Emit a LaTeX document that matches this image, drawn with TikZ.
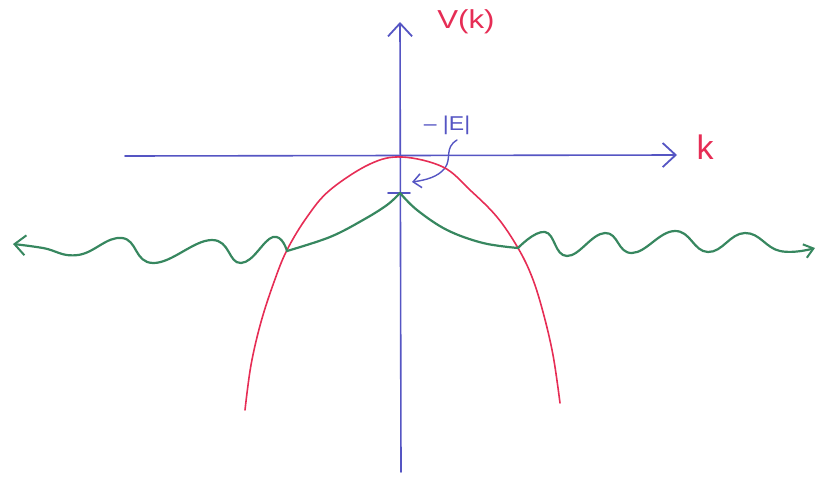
\documentclass[tikz,border=0pt]{standalone}
\usepackage{fontspec}
\setmainfont{Liberation Sans}
\usetikzlibrary{arrows.meta}
\definecolor{axisblue}{RGB}{85,85,195}
\definecolor{curvered}{RGB}{230,45,85}
\definecolor{wavegreen}{RGB}{55,135,95}
\tikzset{
  axisline/.style={draw=axisblue, line width=1.6pt, line cap=round},
  redcurve/.style={draw=curvered, line width=1.6pt, line cap=round},
  greencurve/.style={draw=wavegreen, line width=2.2pt, line cap=round, line join=round},
  barb/.style={-{Straight Barb[length=13pt,width=24pt,line width=1.8pt]}},
  smallbarb/.style={-{Straight Barb[length=8pt,width=14pt,line width=1.5pt]}},
  redtext/.style={text=curvered, inner sep=0pt},
  bluetext/.style={text=axisblue, inner sep=0pt}
}
\begin{document}
\begin{tikzpicture}[x=1pt,y=-1pt]
\useasboundingbox (0,0) rectangle (816,477);
% axes
\coordinate (vbot) at (401,472);
\coordinate (vtop) at (400,22);
\coordinate (hleft) at (125,156);
\coordinate (hright) at (677,155);
\draw[axisline, barb] (vbot) -- (vtop);
\draw[axisline, barb] (hleft) -- (hright);
% labels
\node[redtext, font=\fontsize{26}{28}\selectfont, xscale=1.2] (Vlab) at (466,22) {V(k)};
\node[redtext, font=\fontsize{34}{36}\selectfont] (klab) at (705,147) {k};
\node[bluetext, font=\fontsize{20}{22}\selectfont, xscale=1.15] (Elab) at (447,125) {– |E|};
% tick at -|E|
\coordinate (cusp) at (400,193);
\coordinate (tickL) at (388,193);
\coordinate (tickR) at (410,193);
\draw[axisline] (tickL) -- (tickR);
% curly arrow
\coordinate (curlstart) at (457,140);
\coordinate (curlend) at (412,182);
\draw[axisline, line width=1.4pt, smallbarb] (curlstart) .. controls (444,148) and (452,158) .. (445,168) .. controls (438,177) and (426,180) .. (curlend);
% red curve
\draw[redcurve] plot[smooth, tension=0.6] coordinates {(245,410) (251,365) (261,322) (274,282) (287,250) (307,217) (330,190) (370,164) (402,157) (443,167) (470,190) (497,217) (518,248) (532,277) (543,312) (553,355) (560,403)};
% green bound part
\coordinate (gl) at (287,251);
\coordinate (gr) at (518,248);
\draw[greencurve] plot[smooth, tension=0.6] coordinates {(gl) (330,237) (363,220) (387,205) (cusp)};
\draw[greencurve] plot[smooth, tension=0.6] coordinates {(cusp) (417,210) (447,230) (483,243) (gr)};
% green waves
\draw[greencurve, -{Straight Barb[length=11pt,width=20pt,line width=2pt]}] plot[smooth, tension=0.75] coordinates {(gl) (273,237) (241,263) (212,240) (153,263) (122,238) (78,255) (43,248) (13,244)};
\draw[greencurve, -{Straight Barb[length=9pt,width=14pt,line width=2pt]}] plot[smooth, tension=0.75] coordinates {(gr) (545,232) (567,256) (605,233) (632,253) (675,231) (708,252) (745,233) (780,251) (815,248)};
\end{tikzpicture}
\end{document}
